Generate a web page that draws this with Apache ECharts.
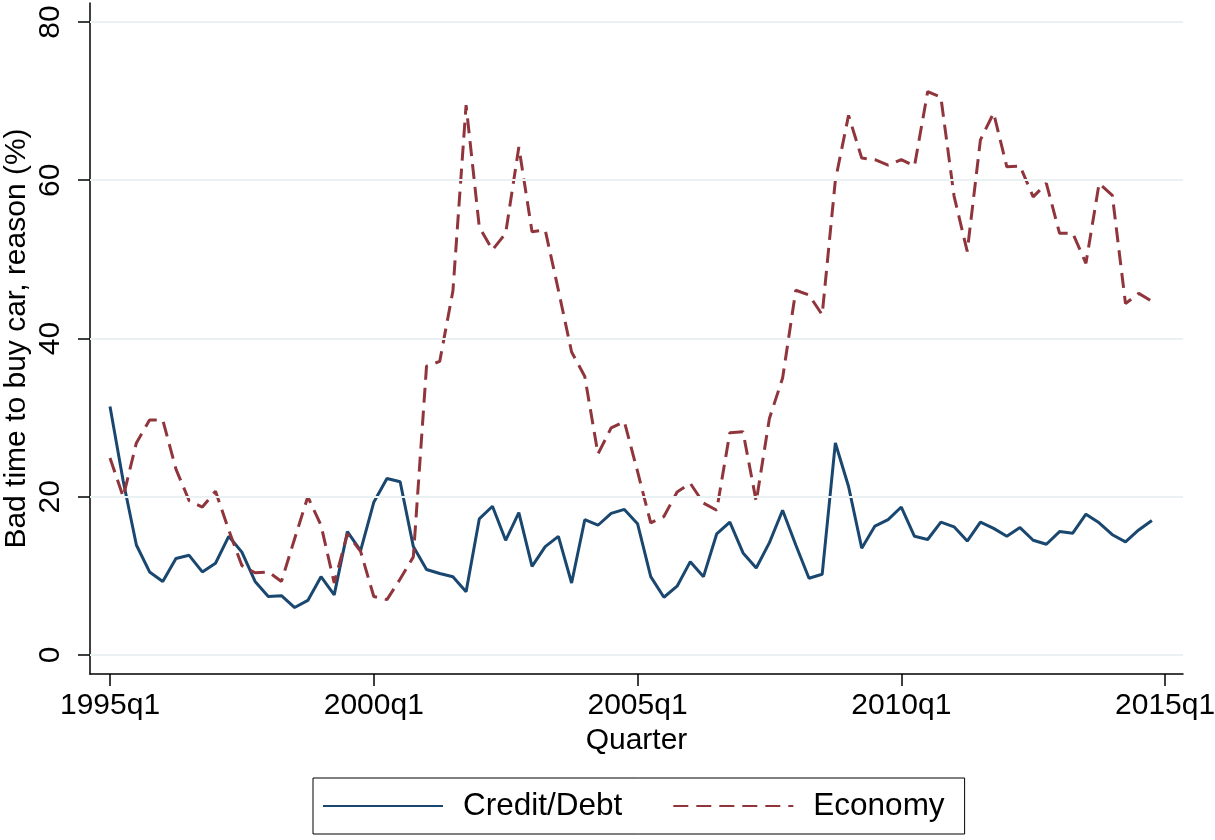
<!DOCTYPE html>
<html>
<head>
<meta charset="utf-8">
<script src="https://cdn.jsdelivr.net/npm/echarts@6/dist/echarts.min.js"></script>
<style>
html,body{margin:0;padding:0;background:#fff;}
#chart{width:1215px;height:840px;}
</style>
</head>
<body>
<div id="chart"></div>
<script>
// Quarter index 0 = 1995q1 ... 79 = 2014q4
const tickPositions = [0, 20, 40, 60, 80];
const tickLabels = ['1995q1', '2000q1', '2005q1', '2010q1', '2015q1'];
const yTicks = [0, 20, 40, 60, 80];

const creditDebt = [
  31.4, 22.0, 13.9, 10.5, 9.3, 12.2, 12.6, 10.5, 11.6, 15.0,
  13.0, 9.3, 7.4, 7.5, 6.0, 6.9, 9.9, 7.6, 15.6, 13.2,
  19.3, 22.3, 21.9, 13.7, 10.8, 10.3, 9.9, 8.0, 17.2, 18.8,
  14.5, 18.0, 11.2, 13.7, 15.0, 9.1, 17.1, 16.4, 17.9, 18.4,
  16.6, 9.9, 7.3, 8.7, 11.8, 9.9, 15.3, 16.8, 12.9, 11.0,
  14.2, 18.3, 13.9, 9.7, 10.2, 26.8, 21.3, 13.5, 16.3, 17.1,
  18.7, 15.0, 14.6, 16.8, 16.2, 14.4, 16.8, 16.0, 15.0, 16.1,
  14.5, 14.0, 15.6, 15.4, 17.8, 16.7, 15.2, 14.3, 15.8, 17.0
];

const economy = [
  24.9, 20.0, 26.8, 29.7, 29.7, 23.5, 19.5, 18.7, 20.7, 15.8,
  11.3, 10.4, 10.5, 9.3, 14.7, 20.0, 16.4, 9.1, 15.3, 13.1,
  7.4, 7.0, 9.6, 12.4, 36.5, 37.1, 46.0, 69.5, 54.1, 51.2,
  53.3, 64.2, 53.5, 53.7, 46.1, 38.3, 35.2, 25.4, 28.7, 29.5,
  23.2, 16.7, 17.5, 20.6, 21.7, 19.2, 18.3, 28.1, 28.2, 19.4,
  29.9, 35.0, 46.1, 45.5, 43.0, 60.0, 68.2, 62.8, 62.6, 61.9,
  62.6, 61.8, 71.2, 70.5, 58.0, 51.0, 65.1, 68.5, 61.7, 61.8,
  57.9, 59.6, 53.3, 53.3, 49.5, 59.6, 58.1, 44.4, 45.7, 44.7
];

const toPairs = arr => arr.map((v, i) => [i, v]);
const FONT = "'Liberation Sans', Arial, Helvetica, sans-serif";

const chart = echarts.init(document.getElementById('chart'), null, {renderer: 'canvas'});
chart.setOption({
  animation: false,
  backgroundColor: '#ffffff',
  textStyle: {fontFamily: FONT, color: '#000'},
  grid: {left: 90, right: 32, top: 3, bottom: 166, containLabel: false, outerBoundsMode: 'none'},
  xAxis: {
    type: 'value',
    min: -1.517,
    max: 81.36,
    name: 'Quarter',
    nameLocation: 'middle',
    nameGap: 52,
    nameTextStyle: {fontSize: 30, color: '#000', fontFamily: FONT},
    axisLine: {show: true, onZero: false, lineStyle: {color: '#000', width: 1.5}},
    axisTick: {show: true, length: 12, customValues: tickPositions, lineStyle: {color: '#000', width: 1.5}},
    axisLabel: {
      customValues: tickPositions,
      fontSize: 30, color: '#000', margin: 17, fontFamily: FONT,
      formatter: v => tickLabels[tickPositions.indexOf(Math.round(v))] || ''
    },
    splitLine: {show: false}
  },
  yAxis: {
    type: 'value',
    min: -2.4,
    max: 82.4,
    name: 'Bad time to buy car, reason (%)',
    nameLocation: 'middle',
    nameGap: 58,
    nameMoveOverlap: false,
    nameTextStyle: {fontSize: 30, color: '#000', fontFamily: FONT},
    axisLine: {show: true, onZero: false, lineStyle: {color: '#000', width: 1.5}},
    axisTick: {show: true, length: 12, customValues: yTicks, lineStyle: {color: '#000', width: 1.5}},
    axisLabel: {
      customValues: yTicks,
      rotate: 90,
      fontSize: 30, color: '#000', margin: 24, fontFamily: FONT,
      formatter: v => String(Math.round(v))
    },
    splitLine: {show: false}
  },
  legend: {
    left: 313,
    top: 778,
    orient: 'horizontal',
    padding: [12, 20, 12, 9],
    borderColor: '#000',
    borderWidth: 1,
    itemWidth: 120,
    itemHeight: 14,
    itemGap: 50,
    itemStyle: {opacity: 0},
    textStyle: {fontSize: 31.5, color: '#000', fontFamily: FONT, padding: [0, 0, 0, 15]},
    data: ['Credit/Debt', 'Economy']
  },
  series: [
    {
      name: 'grid',
      type: 'line',
      data: [],
      z: 1,
      silent: true,
      markLine: {
        silent: true,
        symbol: ['none', 'none'],
        label: {show: false},
        lineStyle: {color: '#e9f1f3', width: 2, type: 'solid'},
        data: yTicks.map(v => ({yAxis: v}))
      }
    },
    {
      name: 'Credit/Debt',
      type: 'line',
      z: 3,
      data: toPairs(creditDebt),
      showSymbol: false,
      symbol: 'none',
      color: '#1a476f',
      lineStyle: {color: '#1a476f', width: 3}
    },
    {
      name: 'Economy',
      type: 'line',
      z: 3,
      data: toPairs(economy),
      showSymbol: false,
      symbol: 'none',
      color: '#90353b',
      lineStyle: {color: '#90353b', width: 3, type: [15, 8]}
    }
  ]
});
</script>
</body>
</html>
